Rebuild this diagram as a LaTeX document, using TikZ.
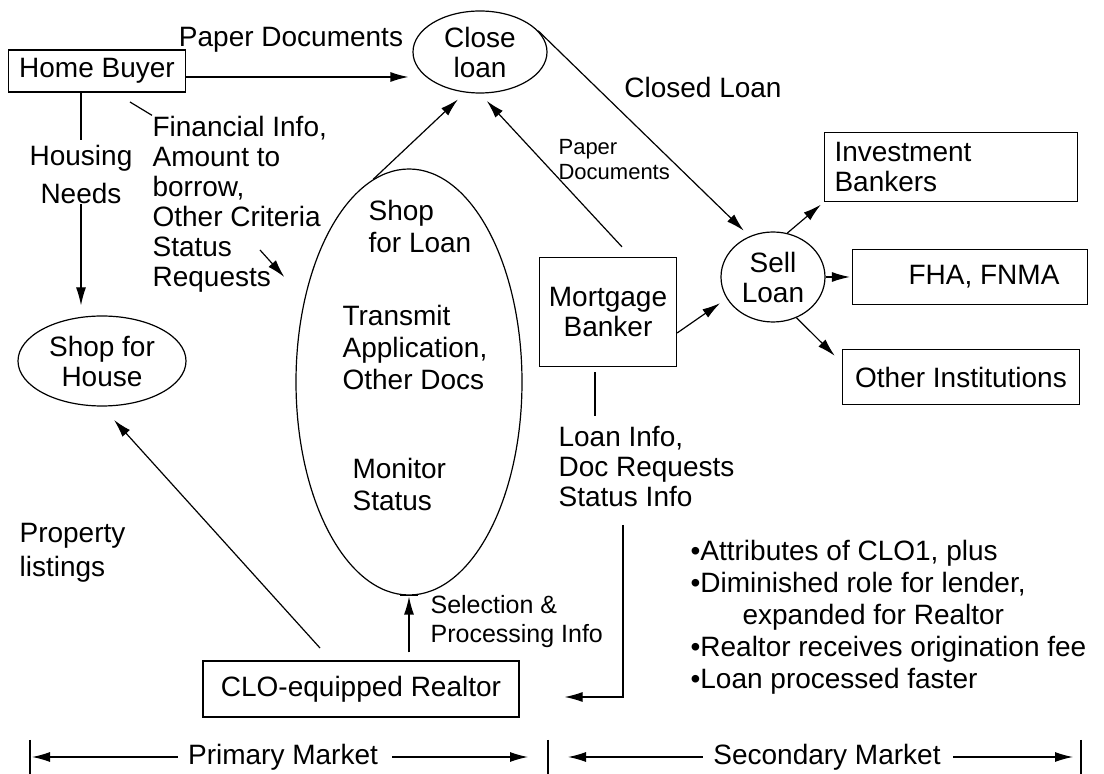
\documentclass[tikz,border=0pt]{standalone}
\usepackage{fontspec}
\setmainfont{Liberation Sans}
\usetikzlibrary{arrows.meta,shapes.geometric}

\begin{document}
\begin{tikzpicture}[x=0.5pt, y=-0.5pt, line width=0.6pt,
  font=\fontsize{14}{15}\selectfont,
  flow/.style={-{Latex[length=9pt,width=5pt]}, shorten >=2pt},
  box/.style={draw, rectangle, inner sep=0pt, align=center},
  oval/.style={draw, ellipse, inner sep=0pt, align=center},
  lbl/.style={inner sep=0pt, align=left},
  smalltext/.style={font=\fontsize{11}{12.5}\selectfont}]
  \useasboundingbox (0,0) rectangle (1104,774);
  \node[box, minimum width=88.5pt, minimum height=21pt] (buyer) at (97,71) {Home Buyer};
  \node[oval, minimum width=67pt, minimum height=41pt] (close) at (480,52) {Close\\loan};
  \node[lbl] (paper) at (291,40) {Paper Documents};
  \node[lbl] (closed) at (703,88) {Closed Loan};
  \node[lbl, align=center] (needs) at (81,174) {Housing\\[4pt]Needs};
  \node[lbl, anchor=west] (fin) at (152,204) {Financial Info,\\Amount to\\borrow,\\Other Criteria\\Status\\Requests};
  \coordinate (finstart) at (130,102);
  \coordinate (reqa) at (260,250);
  \coordinate (reqb) at (287,280);
  \node[oval, minimum width=113pt, minimum height=213pt] (shop) at (409,382) {};
  \node[lbl, anchor=west, font=\fontsize{14}{16}\selectfont] (shoploan) at (368,226) {Shop\\for Loan};
  \node[lbl, anchor=west, font=\fontsize{14}{16}\selectfont] (transmit) at (342,347) {Transmit\\Application,\\Other Docs};
  \node[lbl, anchor=west, font=\fontsize{14}{16}\selectfont] (monitor) at (352,484) {Monitor\\Status};
  \node[box, minimum width=68.5pt, minimum height=54.5pt] (mort) at (608,312) {Mortgage\\Banker};
  \node[lbl, smalltext, anchor=west] (paper2) at (558,160) {Paper\\Documents};
  \node[oval, minimum width=52pt, minimum height=45pt] (sell) at (773,277) {Sell\\Loan};
  \node[box, minimum width=126.5pt, minimum height=34.5pt, text width=116.5pt, align=left] (invest) at (951,167) {Investment\\Bankers};
  \node[box, minimum width=117.5pt, minimum height=27.5pt] (fha) at (970,277) {\hspace*{14pt}FHA, FNMA};
  \node[box, minimum width=118.5pt, minimum height=27.5pt] (other) at (961,377) {Other Institutions};
  \node[oval, minimum width=84pt, minimum height=45pt] (house) at (102,361) {Shop for\\House};
  \node[lbl, anchor=west] (prop) at (19,553) {Property\\[2pt]listings};
  \coordinate (propstart) at (320,648);
  \node[box, minimum width=158pt, minimum height=28pt] (realtor) at (361,689) {CLO-equipped Realtor};
  \node[lbl, anchor=west, font=\fontsize{12.5}{14.5}\selectfont] (sel) at (430,622) {Selection \&\\Processing Info};
  \node[lbl, anchor=west] (loaninfo) at (558,467) {Loan Info,\\Doc Requests\\Status Info};
  \coordinate (rettop) at (623,525);
  \node[lbl, anchor=west, font=\fontsize{14}{16}\selectfont] (notes) at (690,617) {•Attributes of CLO1, plus\\•Diminished role for lender,\\\hspace*{26pt}expanded for Realtor\\•Realtor receives origination fee\\•Loan processed faster};
  \node[lbl] (primary) at (283,757) {Primary Market};
  \node[lbl] (secondary) at (827,757) {Secondary Market};
  \coordinate (barL) at (30,757);
  \coordinate (barM) at (548,757);
  \coordinate (barR) at (1081,757);

  \draw[flow] ([yshift=-3pt]buyer.east) -- ([yshift=-3pt]buyer.east -| close.west);
  \draw[shorten >=2pt] (buyer.south -| needs) -- (needs.north);
  \draw[flow, shorten >=5pt] (needs.south) -- (needs.south |- house.north);
  \draw (finstart) -- (fin.north west);
  \draw[flow] (reqa) -- (reqb);
  \draw[flow, shorten >=5pt] (shop.100) -- (close.250);
  \draw[flow, shorten >=5pt] ([xshift=7pt,yshift=5pt]mort.north) -- (close.south);
  \draw[flow, shorten >=4pt] (close.20) -- (sell.120);
  \draw[flow, shorten >=4pt] ([yshift=-10.5pt]mort.east) -- (sell.205);
  \draw[flow] (sell.72) -- (invest.south west);
  \draw[flow, shorten >=1pt] (sell.east) -- (fha.west);
  \draw[flow, shorten >=5pt] (sell.300) -- ([yshift=-7pt]other.north west);
  \draw[flow, shorten >=9pt] (propstart) -- (house.south);
  \draw[flow, shorten >=0.5pt] ([yshift=4pt]realtor.north -| shop.south) -- (shop.south);
  \draw ([xshift=-4.5pt]shop.south) -- ([xshift=4.5pt]shop.south);
  \draw[shorten <=2.5pt, shorten >=5pt] ([xshift=-6.5pt]mort.south) -- ([xshift=-6.5pt]mort.south |- loaninfo.north);
  \draw[flow, shorten >=22.5pt] (rettop) |- ([yshift=-4pt]realtor.east);
  \foreach \b in {barL,barM,barR}
    \draw ([yshift=8.5pt]\b) -- ([yshift=-8.5pt]\b);
  \draw[flow, shorten >=1pt] ([xshift=-5pt]primary.west) -- (barL);
  \draw[flow, shorten >=10pt] ([xshift=7pt]primary.east) -- (barM);
  \draw[flow, shorten >=10pt] ([xshift=-5pt]secondary.west) -- (barM);
  \draw[flow, shorten >=4pt] ([xshift=6pt]secondary.east) -- (barR);
\end{tikzpicture}
\end{document}
